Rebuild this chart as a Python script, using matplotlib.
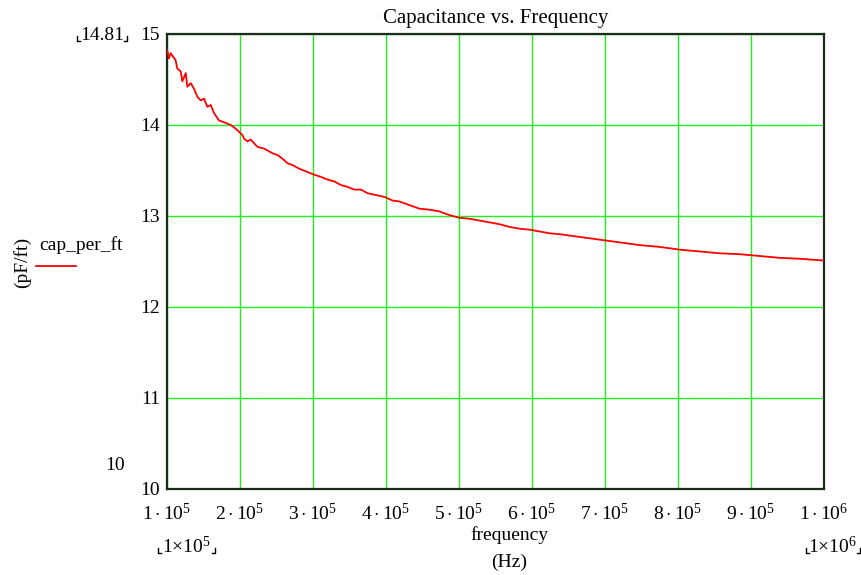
import numpy as np
import matplotlib
matplotlib.use('Agg')
import matplotlib.pyplot as plt
from matplotlib.lines import Line2D

# frequency samples (kHz) and capacitance (pF/ft)
freq_khz = [100.4, 102.7, 105.1, 111.9, 114.1, 118.8, 121.0, 125.7, 127.8, 132.5,
            137.0, 141.6, 146.2, 150.8, 155.3, 159.9, 164.5, 171.3, 178.2, 187.4,
            194.2, 203.3, 205.6, 210.1, 214.8, 219.3, 223.9, 233.1, 239.9, 244.4,
            251.3, 258.2, 265.0, 271.9, 281.1, 290.3, 299.3, 310.8, 319.9, 329.1,
            338.3, 347.3, 356.5, 365.7, 374.8, 386.3, 397.7, 409.0, 418.2, 432.0,
            445.7, 459.4, 473.1, 486.8, 500.5, 514.3, 528.0, 541.7, 555.4, 569.1,
            582.8, 596.6, 610.3, 624.0, 637.7, 665.1, 692.6, 720.0, 747.4, 774.9,
            802.3, 829.7, 857.2, 884.6, 912.0, 939.5, 966.9, 1000.0]
cap_per_ft = [14.82, 14.73, 14.79, 14.71, 14.62, 14.59, 14.48, 14.57, 14.42, 14.46,
              14.40, 14.31, 14.27, 14.29, 14.20, 14.22, 14.13, 14.05, 14.03, 14.00,
              13.96, 13.89, 13.85, 13.82, 13.84, 13.80, 13.76, 13.74, 13.71, 13.69,
              13.67, 13.63, 13.58, 13.56, 13.52, 13.49, 13.46, 13.43, 13.40, 13.38,
              13.34, 13.32, 13.29, 13.29, 13.25, 13.23, 13.21, 13.17, 13.16, 13.12,
              13.08, 13.07, 13.05, 13.01, 12.98, 12.97, 12.95, 12.93, 12.91, 12.88,
              12.86, 12.85, 12.83, 12.81, 12.80, 12.77, 12.74, 12.71, 12.68, 12.66,
              12.63, 12.61, 12.59, 12.58, 12.56, 12.54, 12.53, 12.51]

x_ticks = [1e5, 2e5, 3e5, 4e5, 5e5, 6e5, 7e5, 8e5, 9e5, 1e6]
x_tick_labels = [r'$1\cdot10^{5}$', r'$2\cdot10^{5}$', r'$3\cdot10^{5}$', r'$4\cdot10^{5}$',
                 r'$5\cdot10^{5}$', r'$6\cdot10^{5}$', r'$7\cdot10^{5}$', r'$8\cdot10^{5}$',
                 r'$9\cdot10^{5}$', r'$1\cdot10^{6}$']
y_ticks = [10, 11, 12, 13, 14, 15]

plt.rcParams['font.family'] = ['Liberation Serif', 'DejaVu Serif', 'DejaVu Sans']
plt.rcParams['mathtext.fontset'] = 'custom'
plt.rcParams['mathtext.rm'] = 'Liberation Serif'
plt.rcParams['mathtext.it'] = 'Liberation Serif'

freq = np.array(freq_khz) * 1e3
fs = 14

fig = plt.figure(figsize=(8.62, 5.75), dpi=100)
ax = fig.add_axes([0.1937, 0.1496, 0.7622, 0.7913])

ax.plot(freq, cap_per_ft, color='red', lw=1.3, zorder=3)

ax.set_xlim(1e5, 1e6)
ax.set_ylim(10, 15)
ax.set_xticks(x_ticks)
ax.set_xticklabels(x_tick_labels)
ax.set_yticks(y_ticks)
ax.tick_params(length=0, labelsize=fs)
ax.tick_params(axis='x', pad=10)
ax.tick_params(axis='y', pad=5)
ax.grid(True, color='#22ee22', lw=1.0)
for s in ax.spines.values():
    s.set_color('#1c2b1c')
    s.set_linewidth(1.6)

ax.set_title('Capacitance vs. Frequency', fontsize=15, pad=8)

# axis captions (Mathcad style)
fig.text(509 / 862, 1 - 535 / 575, 'frequency', fontsize=fs, ha='center', va='center')
fig.text(509 / 862, 1 - 562 / 575, '(Hz)', fontsize=fs, ha='center', va='center')
fig.text(22 / 862, 1 - 262 / 575, '(pF/ft)', fontsize=fs, rotation=90, ha='center', va='center')
fig.text(39 / 862, 1 - 245 / 575, 'cap_per_ft', fontsize=fs, ha='left', va='center')
fig.add_artist(Line2D([36 / 862, 76 / 862], [1 - 266 / 575, 1 - 266 / 575],
                      color='red', lw=1.3, transform=fig.transFigure))

# limit markers
fig.text(102 / 862, 1 - 35 / 575, '14.81', fontsize=fs, ha='center', va='center')
fig.text(115 / 862, 1 - 466 / 575, '10', fontsize=fs, ha='center', va='center')
fig.text(186 / 862, 1 - 546 / 575, r'$1{\times}10^{5}$', fontsize=fs, ha='center', va='center')
fig.text(832 / 862, 1 - 546 / 575, r'$1{\times}10^{6}$', fontsize=fs, ha='center', va='center')


def corner_marks(x0, x1, y):
    # small bracket marks around Mathcad limit labels (pixel coords)
    h, w = 5, 3
    for xs, ys in [([x0, x0, x0 + w], [y - h, y, y]), ([x1 - w, x1, x1], [y, y, y - h])]:
        fig.add_artist(Line2D([v / 862 for v in xs], [1 - v / 575 for v in ys],
                              color='black', lw=1.0, transform=fig.transFigure))


corner_marks(77, 127, 41)
corner_marks(158, 215, 553)
corner_marks(806, 860, 553)

fig.savefig('out.png', dpi=100)
